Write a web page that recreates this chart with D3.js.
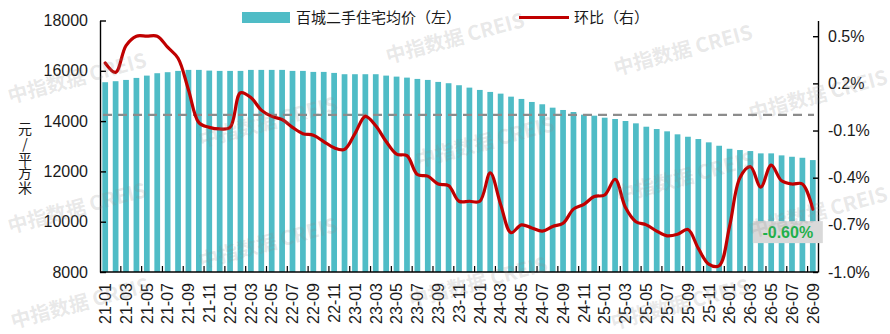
<!DOCTYPE html>
<html><head><meta charset="utf-8">
<script src="https://cdn.jsdelivr.net/npm/d3@7/dist/d3.min.js"></script>
<style>
html,body{margin:0;padding:0;background:#fff;}
svg{display:block;}
</style></head>
<body>
<svg id="chart" width="890" height="334"></svg>
<script>
const months = ["21-01","21-02","21-03","21-04","21-05","21-06","21-07","21-08","21-09","21-10","21-11","21-12",
"22-01","22-02","22-03","22-04","22-05","22-06","22-07","22-08","22-09","22-10","22-11","22-12",
"23-01","23-02","23-03","23-04","23-05","23-06","23-07","23-08","23-09","23-10","23-11","23-12",
"24-01","24-02","24-03","24-04","24-05","24-06","24-07","24-08","24-09","24-10","24-11","24-12",
"25-01","25-02","25-03","25-04","25-05","25-06","25-07","25-08","25-09","25-10","25-11","25-12",
"26-01","26-02","26-03","26-04","26-05","26-06","26-07","26-08","26-09"];
const avgPrice = [15546,15586,15637,15717,15809,15904,15944,15996,16036,16036,16008,15996,
15996,15996,16036,16036,16036,16036,15996,15996,15956,15956,15916,15864,
15864,15864,15864,15809,15769,15729,15677,15637,15558,15506,15426,15331,
15239,15160,15092,14972,14881,14761,14669,14534,14442,14362,14255,14215,
14135,14083,14004,13911,13777,13685,13593,13474,13378,13287,13155,13020,
12900,12849,12809,12717,12717,12637,12582,12542,12450];
const momChange = [0.33,0.27,0.44,0.50,0.50,0.50,0.43,0.36,0.16,-0.05,-0.08,-0.09,
-0.08,0.14,0.11,0.03,-0.01,-0.03,-0.08,-0.12,-0.13,-0.17,-0.21,-0.22,
-0.12,-0.01,-0.07,-0.17,-0.25,-0.26,-0.38,-0.39,-0.44,-0.45,-0.55,-0.55,
-0.55,-0.37,-0.57,-0.75,-0.70,-0.72,-0.74,-0.71,-0.69,-0.60,-0.57,-0.52,
-0.51,-0.41,-0.59,-0.68,-0.70,-0.74,-0.77,-0.76,-0.73,-0.85,-0.95,-0.96,
-0.71,-0.40,-0.33,-0.46,-0.32,-0.42,-0.44,-0.44,-0.60];
const leftTicks = [8000,10000,12000,14000,16000,18000];
const rightTicks = [-1.0,-0.7,-0.4,-0.1,0.2,0.5];
const legendLabels = ["百城二手住宅均价（左）","环比（右）"];
const yTitle = "元/平方米";
const watermark = "中指数据 CREIS";

const barColor = "#4fbcc6", lineColor = "#c00000";
const svg = d3.select("#chart");
const L = 100, R = 818, T = 20.5, B = 272;

const x = d3.scaleBand().domain(months).range([L, R]).paddingInner(0.45).paddingOuter(0.225);
const yL = d3.scaleLinear().domain([8000, 18000]).range([B, T]);
const yR = d3.scaleLinear().domain([-1.0, 0.6]).range([B, T]);
const bw = x.bandwidth();

// bars
svg.append("g").selectAll("rect").data(avgPrice).join("rect")
  .attr("x", (d,i) => x(months[i]))
  .attr("y", d => yL(d))
  .attr("width", bw)
  .attr("height", d => B - yL(d))
  .attr("fill", barColor);

// zero dashed line
svg.append("line")
  .attr("x1", L + 3).attr("x2", R - 4)
  .attr("y1", yR(0)).attr("y2", yR(0))
  .attr("stroke", "#8c8c8c").attr("stroke-width", 2.2)
  .attr("stroke-dasharray", "9,6");

// line
const line = d3.line()
  .x((d,i) => x(months[i]) + bw/2)
  .y(d => yR(d))
  .curve(d3.curveCatmullRom.alpha(0.5));
svg.append("path").datum(momChange)
  .attr("d", line)
  .attr("fill", "none")
  .attr("stroke", lineColor)
  .attr("stroke-width", 3.2)
  .attr("stroke-linejoin", "round")
  .attr("stroke-linecap", "round");

const tickFont = "'Liberation Sans', Arial, sans-serif";

// left axis
const gL = svg.append("g").attr("transform", `translate(${L},0)`)
  .call(d3.axisLeft(yL).tickValues(leftTicks).tickSizeInner(-6).tickSizeOuter(0).tickPadding(12).tickFormat(d3.format("d")));
gL.selectAll("text").attr("font-size", 16).attr("font-family", tickFont).attr("fill", "#1a1a1a");
gL.selectAll("line,path").attr("stroke", "#000").attr("stroke-width", 1.4);

// right axis
const gR = svg.append("g").attr("transform", `translate(${R},0)`)
  .call(d3.axisRight(yR).tickValues(rightTicks).tickSizeInner(-5).tickSizeOuter(0).tickPadding(10).tickFormat(d => d.toFixed(1) + "%"));
gR.selectAll("text").attr("font-size", 16).attr("font-family", tickFont).attr("fill", "#1a1a1a");
gR.selectAll("line,path").attr("stroke", "#000").attr("stroke-width", 1.4);

// x axis
const gX = svg.append("g");
gX.append("line").attr("x1", L).attr("x2", R).attr("y1", B).attr("y2", B)
  .attr("stroke", "#000").attr("stroke-width", 1.4);
const step = x.step();
const tickIdx = d3.range(2, months.length, 2);
gX.selectAll("line.t").data(tickIdx).join("line").attr("class","t")
  .attr("x1", i => L + step * i).attr("x2", i => L + step * i)
  .attr("y1", B).attr("y2", B - 6)
  .attr("stroke", "#000").attr("stroke-width", 1.2);
gX.selectAll("text").data(months.filter((m,i) => i % 2 === 0)).join("text")
  .attr("transform", m => `translate(${x(m) + bw/2},283) rotate(-90)`)
  .attr("text-anchor", "end")
  .attr("dy", "0.36em")
  .attr("font-size", 16).attr("font-family", tickFont).attr("fill", "#1a1a1a")
  .text(m => m);

// y title (vertical writing)
svg.append("text")
  .attr("x", 25).attr("y", 122)
  .attr("font-size", 14)
  .attr("font-family", "'Noto Sans CJK SC', sans-serif").attr("fill", "#1a1a1a")
  .style("writing-mode", "vertical-rl")
  .style("text-orientation", "upright")
  .style("letter-spacing", "0.6px")
  .text(yTitle);

// legend
const lg = svg.append("g").attr("font-family", "'Noto Sans CJK SC', sans-serif").attr("font-size", 15).attr("fill", "#1a1a1a");
lg.append("rect").attr("x", 242).attr("y", 12).attr("width", 48).attr("height", 11).attr("fill", barColor);
lg.append("text").attr("x", 296).attr("y", 17.5).attr("dy", "0.36em").text(legendLabels[0]);
lg.append("line").attr("x1", 519).attr("x2", 569).attr("y1", 17.5).attr("y2", 17.5)
  .attr("stroke", lineColor).attr("stroke-width", 3.2);
lg.append("text").attr("x", 574).attr("y", 17.5).attr("dy", "0.36em").text(legendLabels[1]);

// last value label
const last = momChange[momChange.length - 1];
const lx = x(months[months.length - 1]) + bw/2, ly = yR(last);
svg.append("rect").attr("x", lx - 60).attr("y", ly + 12).attr("width", 70).attr("height", 22).attr("fill", "#d9d9d9");
svg.append("text").attr("x", lx - 25).attr("y", ly + 23).attr("dy", "0.36em")
  .attr("text-anchor", "middle").attr("font-size", 16).attr("font-weight", "bold")
  .attr("font-family", tickFont).attr("fill", "#1fb04a")
  .text(last.toFixed(2) + "%");

// watermarks
const wmPos = [[77,78],[455,38],[683,50],[818,95],[485,142],[77,208],[268,122],[268,243],[685,177],[818,212],[680,304],[478,282],[80,303]];
svg.append("g").selectAll("text").data(wmPos).join("text")
  .attr("transform", d => `translate(${d[0]},${d[1]}) rotate(-15)`)
  .attr("text-anchor", "middle").attr("dy", "0.36em")
  .attr("font-size", 20).attr("font-weight", "bold")
  .attr("font-family", "'Noto Sans CJK SC', sans-serif")
  .attr("fill", "#8a8a8a").attr("fill-opacity", 0.2)
  .text(watermark);
</script>
</body></html>
